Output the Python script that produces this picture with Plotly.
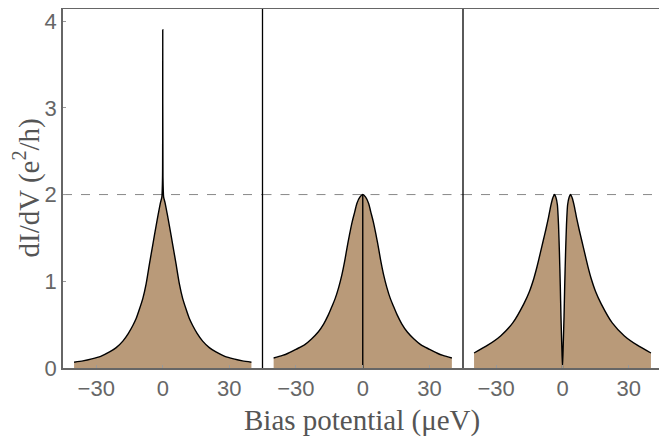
import plotly.graph_objects as go

# Panel 1: broad peak with a narrow spike at zero bias
v1 = [-40, -36, -32, -28, -24, -21, -18, -15.5, -13.5, -12, -10.5, -9, -7.5, -6, -4.5, -3, -2, -1, -0.4,
      -0.1, 0, 0.1, 0.4, 1, 2, 3, 4.5, 6, 7.5, 9, 10.5, 12, 13.5, 15.5, 18, 21, 24, 28, 32, 36, 40]
g1 = [0.067, 0.082, 0.105, 0.135, 0.185, 0.235, 0.31, 0.40, 0.49, 0.57, 0.68, 0.80, 0.97, 1.2, 1.42, 1.64, 1.78, 1.91, 1.97,
      2.2, 3.9, 2.2, 1.97, 1.91, 1.78, 1.64, 1.42, 1.2, 0.97, 0.80, 0.68, 0.57, 0.49, 0.40, 0.31, 0.235, 0.185, 0.135, 0.105, 0.082, 0.067]

# Panel 2: broad peak, plus a very narrow dip to zero at zero bias
v2 = [-40, -36, -33.5, -30, -26, -23, -20, -17.5, -15.5, -14, -12.4, -10.8, -9.4, -8.2, -7.1, -6, -4.8, -3.6, -2.6, -1.3,
      0, 1.3, 2.6, 3.6, 4.8, 6, 7.1, 8.2, 9.4, 10.8, 12.4, 14, 15.5, 17.5, 20, 23, 26, 30, 33.5, 36, 40]
g2 = [0.115, 0.145, 0.17, 0.215, 0.27, 0.335, 0.415, 0.51, 0.61, 0.7, 0.8, 0.93, 1.07, 1.22, 1.38, 1.53, 1.68, 1.8, 1.9, 1.97,
      2.0, 1.97, 1.9, 1.8, 1.68, 1.53, 1.38, 1.22, 1.07, 0.93, 0.8, 0.7, 0.61, 0.51, 0.415, 0.335, 0.27, 0.215, 0.17, 0.145, 0.115]
dip2_v = [0, 0]
dip2_g = [0.0, 2.0]

# Panel 3: split peak with a dip to zero between the two maxima
v3 = [-40, -34, -28, -22.5, -17.5, -15, -13, -11.5, -10, -8.7, -7.5, -6.3, -5.3, -4.4, -3.6, -3.0, -2.3, -1.8, -1.4, -1.0, -0.7, -0.35, 0,
      0.35, 0.7, 1.0, 1.4, 1.8, 2.3, 3.0, 3.6, 4.4, 5.3, 6.3, 7.5, 8.7, 10, 11.5, 13, 15, 17.5, 22.5, 28, 34, 40]
g3 = [0.173, 0.26, 0.37, 0.52, 0.74, 0.88, 1.03, 1.17, 1.33, 1.47, 1.6, 1.74, 1.87, 1.96, 2.0, 1.97, 1.88, 1.65, 1.34, 0.95, 0.6, 0.28, 0.0,
      0.28, 0.6, 0.95, 1.34, 1.65, 1.88, 1.97, 2.0, 1.96, 1.87, 1.74, 1.6, 1.47, 1.33, 1.17, 1.03, 0.88, 0.74, 0.52, 0.37, 0.26, 0.173]

x_ticks = [-30, 0, 30]
x_ticktext = ["\u221230", "0", "30"]
y_ticks = [0, 1, 2, 3, 4]
ref_level = 2

FILL = "#b99a79"
AXIS = "#666666"
TICKFONT = dict(family="Liberation Sans, Arial, sans-serif", size=22, color="#666666")
TITLEFONT = dict(family="Liberation Serif, Times New Roman, serif", size=29, color="#555555")

fig = go.Figure()
panels = [(v1, g1, 0.6), (v2, g2, 0.9), (v3, g3, 0.5)]
OFF = 8  # page body margin
W, H = 667 - OFF, 441 - OFF
L, R, T, B = 63 - OFF, 5, 9 - OFF, 73
pw = W - L - R
ph = H - T - B
edges = [0, 199.5 / pw, 400 / pw, 1]

for i, (v, g, sm) in enumerate(panels):
    xa = "x" if i == 0 else f"x{i+1}"
    fig.add_trace(go.Scatter(x=v, y=g, mode="lines", fill="tozeroy", fillcolor=FILL,
                             line=dict(color="black", width=1.4, shape="spline", smoothing=sm),
                             xaxis=xa, yaxis="y", showlegend=False, hoverinfo="skip"))
    key = "xaxis" if i == 0 else f"xaxis{i+1}"
    fig.layout[key] = dict(domain=[edges[i], edges[i + 1]], range=[-45, 45], anchor="y",
                           tickvals=x_ticks, ticktext=x_ticktext, automargin=False,
                           ticks="inside", ticklen=3, tickcolor="#999999",
                           showgrid=False, zeroline=False, showline=True, linecolor=AXIS,
                           linewidth=1.5, mirror=True, tickfont=TICKFONT)
    fig.add_shape(type="line", xref=xa, yref="y", x0=-45, x1=45, y0=ref_level, y1=ref_level,
                  line=dict(color="#888888", width=1, dash="dash"), layer="below")

# narrow zero-bias dip of panel 2
fig.add_trace(go.Scatter(x=dip2_v, y=dip2_g, mode="lines", line=dict(color="black", width=1.4),
                         xaxis="x2", yaxis="y", showlegend=False, hoverinfo="skip"))

fig.update_layout(
    template="none",
    width=W, height=H,
    margin=dict(l=L, r=R, t=T, b=B, autoexpand=False),
    paper_bgcolor="white", plot_bgcolor="white",
    yaxis=dict(range=[0, 4.14], tickvals=y_ticks, ticks="inside", ticklen=3, tickcolor="#999999",
               showgrid=False, zeroline=False, showline=True, linecolor=AXIS, linewidth=1.5,
               mirror=False, tickfont=TICKFONT, automargin=False),
)

# panel dividers (black) and right frame edge (gray)
for e in edges[1:3]:
    fig.add_shape(type="line", xref="paper", yref="paper", x0=e, x1=e, y0=0, y1=1,
                  line=dict(color="black", width=1.3))
fig.add_shape(type="line", xref="paper", yref="paper", x0=1, x1=1, y0=0, y1=1,
              line=dict(color=AXIS, width=1.5))

# title positions given in page pixels
fig.add_annotation(text="Bias potential (\u03bceV)", xref="paper", yref="paper",
                   x=(362 - OFF - L) / pw, y=-(420 - OFF - (T + ph)) / ph,
                   xanchor="center", yanchor="middle", showarrow=False, font=TITLEFONT)
fig.add_annotation(text="dI/dV (e<sup>2</sup>/h)", xref="paper", yref="paper",
                   x=(27 - OFF - L) / pw, y=0.5, xanchor="center", yanchor="middle", textangle=-90,
                   showarrow=False, font=TITLEFONT)

fig.write_html("out.html")
